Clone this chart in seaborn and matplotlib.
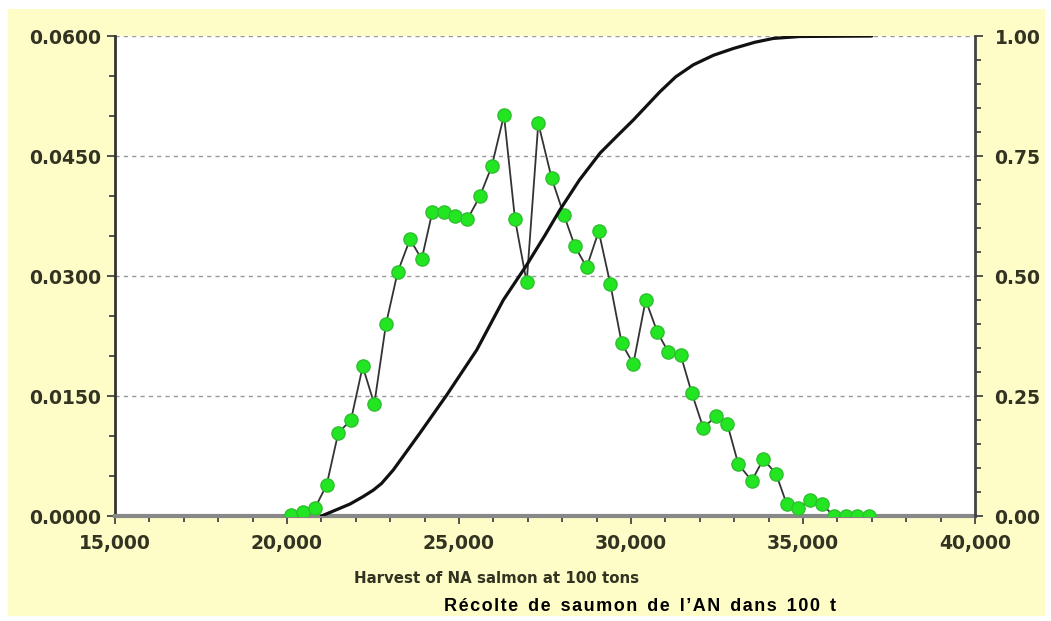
import matplotlib
matplotlib.use("Agg")
import matplotlib.pyplot as plt
import matplotlib.ticker as mticker
from matplotlib.patches import Rectangle
import seaborn as sns
import pandas as pd

# probability of each harvest level (left axis)
harvest = [20108, 20474, 20814, 21154, 21491, 21860, 22201, 22538, 22878, 23218,
           23576, 23916, 24224, 24558, 24898, 25247, 25610, 25950, 26308, 26628,
           26968, 27305, 27695, 28052, 28372, 28712, 29061, 29398, 29730, 30067,
           30427, 30765, 31084, 31445, 31765, 32102, 32471, 32800, 33119, 33509,
           33846, 34215, 34526, 34863, 35203, 35544, 35901, 36250, 36561, 36927]
prob = [0.0001, 0.0005, 0.0010, 0.0039, 0.0104, 0.0120, 0.0187, 0.0140, 0.0240, 0.0305,
        0.0346, 0.0321, 0.0380, 0.0380, 0.0375, 0.0371, 0.0400, 0.0437, 0.0501, 0.0371,
        0.0292, 0.0491, 0.0422, 0.0376, 0.0337, 0.0311, 0.0356, 0.0290, 0.0216, 0.0190,
        0.0270, 0.0230, 0.0205, 0.0201, 0.0154, 0.0110, 0.0125, 0.0115, 0.0065, 0.0044,
        0.0071, 0.0053, 0.0015, 0.0010, 0.0020, 0.0015, 0.0000, 0.0000, 0.0000, 0.0000]

# cumulative probability (right axis)
cum_x = [21000, 21400, 21831, 22200, 22509, 22750, 23090, 23866, 24642, 25515,
         26288, 26968, 27500, 27936, 28500, 29099, 29600, 30067, 30843, 31300,
         31811, 32400, 32974, 33600, 34137, 34913, 37000]
cum_p = [0.0, 0.012, 0.025, 0.040, 0.054, 0.068, 0.096, 0.173, 0.252, 0.346,
         0.450, 0.523, 0.585, 0.638, 0.700, 0.756, 0.792, 0.825, 0.884, 0.915,
         0.940, 0.960, 0.974, 0.987, 0.995, 0.999, 1.0]

df = pd.DataFrame({"harvest": harvest, "prob": prob})
cdf = pd.DataFrame({"harvest": cum_x, "cum": cum_p})

sns.set_style("white")
plt.rcParams["font.family"] = ["DejaVu Sans"]

fig = plt.figure(figsize=(10.51, 6.21), dpi=100)
fig.patches.append(Rectangle((0.008, 0.008), 0.986, 0.978, transform=fig.transFigure,
                             facecolor="#fefdc8", edgecolor="none", zorder=-10))
ax = fig.add_axes([0.1094, 0.169, 0.8183, 0.773])
ax.set_facecolor("white")
ax2 = ax.twinx()

sns.lineplot(data=df, x="harvest", y="prob", ax=ax, color="#333333", linewidth=1.3,
             marker="o", markersize=9.5, markerfacecolor="#22e622",
             markeredgecolor="#2fbf2f", markeredgewidth=1, zorder=3)
sns.lineplot(data=cdf, x="harvest", y="cum", ax=ax2, color="#111111", linewidth=2.3)

ax.set_xlim(15000, 40000)
ax.set_ylim(0, 0.06)
ax2.set_ylim(0, 1.0)

ax.xaxis.set_major_locator(mticker.MultipleLocator(5000))
ax.xaxis.set_minor_locator(mticker.MultipleLocator(1000))
ax.xaxis.set_major_formatter(mticker.FuncFormatter(lambda v, p: f"{int(v):,}"))
ax.yaxis.set_major_locator(mticker.MultipleLocator(0.015))
ax.yaxis.set_minor_locator(mticker.MultipleLocator(0.005))
ax.yaxis.set_major_formatter(mticker.FormatStrFormatter("%.4f"))
ax2.yaxis.set_major_locator(mticker.MultipleLocator(0.25))
ax2.yaxis.set_minor_locator(mticker.MultipleLocator(0.05))
ax2.yaxis.set_major_formatter(mticker.FormatStrFormatter("%.2f"))

ax.yaxis.grid(True, linestyle=(0, (3, 3)), color="#999999", linewidth=1)
ax.set_axisbelow(True)

for a in (ax, ax2):
    a.tick_params(which="both", direction="out", color="#444444", width=1.3)
    a.tick_params(which="major", length=6)
    a.tick_params(which="minor", length=4)
for lab in ax.get_xticklabels() + ax.get_yticklabels() + ax2.get_yticklabels():
    lab.set_fontsize(13.5)
    lab.set_fontweight("bold")
    lab.set_color("#333322")
ax.tick_params(axis="x", which="both", bottom=True, pad=7)
ax.tick_params(axis="y", which="both", left=True, pad=4)
ax2.tick_params(axis="y", which="both", right=True, pad=8)

ax.spines["top"].set_visible(False)
ax2.spines["top"].set_visible(False)
ax.spines["bottom"].set_color("#888888")
ax.spines["bottom"].set_linewidth(3)
ax2.spines["bottom"].set_visible(False)
ax.spines["left"].set_color("#333333")
ax.spines["left"].set_linewidth(2)
ax2.spines["left"].set_visible(False)
ax2.spines["right"].set_color("#444444")
ax2.spines["right"].set_linewidth(2)
ax.spines["right"].set_visible(False)

ax.set_xlabel("")
ax.set_ylabel("")
ax2.set_ylabel("")

fig.text(0.472, 0.069, "Harvest of NA salmon at 100 tons", ha="center", va="center",
         fontsize=10.8, fontweight="bold", color="#333322")
french = "Récolte de saumon de l’AN dans 100 t"
spaced = "  ".join("\u200a".join(w) for w in french.split(" "))
fig.text(0.609, 0.024, spaced, ha="center", va="center", fontsize=13,
         fontweight="bold", color="#000000", family=["Liberation Sans", "DejaVu Sans"])

fig.savefig("out.png", dpi=100)
